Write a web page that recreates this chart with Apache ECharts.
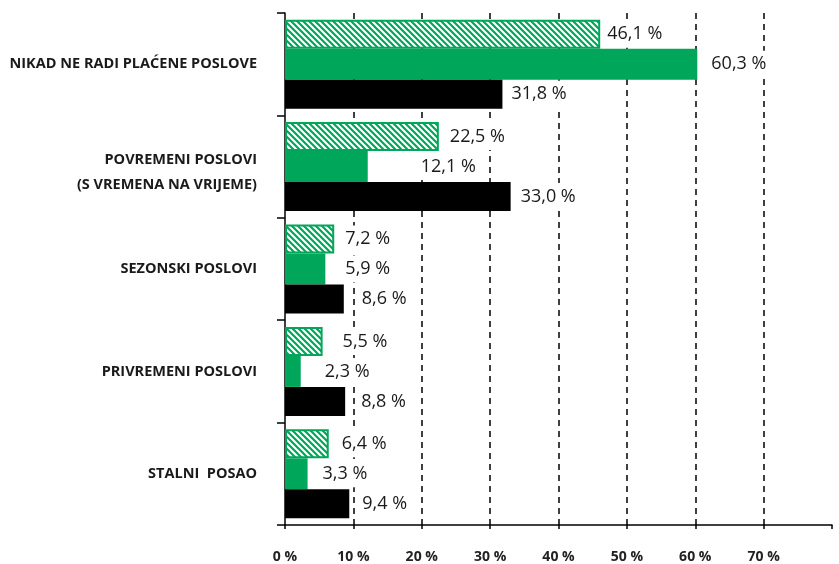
<!DOCTYPE html>
<html>
<head>
<meta charset="utf-8">
<script src="https://cdn.jsdelivr.net/npm/echarts@6/dist/echarts.min.js"></script>
<style>
  html, body { margin: 0; padding: 0; background: #fff; }
  #chart { width: 839px; height: 564px; }
</style>
</head>
<body>
<div id="chart"></div>
<script>
const categories = [
  'NIKAD NE RADI PLAĆENE POSLOVE',
  'POVREMENI POSLOVI\n(S VREMENA NA VRIJEME)',
  'SEZONSKI POSLOVI',
  'PRIVREMENI POSLOVI',
  'STALNI  POSAO'
]
const hatchedValues = [46.1, 22.5, 7.2, 5.5, 6.4]
const greenValues = [60.3, 12.1, 5.9, 2.3, 3.3]
const blackValues = [31.8, 33.0, 8.6, 8.8, 9.4]
const xTicks = [0, 10, 20, 30, 40, 50, 60, 70]

// label gaps (px) so the labels sit where the original has them
const hatchedGap = [4, 8, 8, 17, 10]
const greenGap = [11, 50, 17, 21, 12]
const blackGap = [6, 7, 15, 13, 10]

const GREEN = '#00a65a'
const FONT = '"Open Sans", sans-serif'

const makeHatch = () => {
  const c = document.createElement('canvas')
  c.width = 6
  c.height = 6
  const g = c.getContext('2d')
  g.fillStyle = '#fff'
  g.fillRect(0, 0, 6, 6)
  g.strokeStyle = GREEN
  g.lineWidth = 2.2
  g.beginPath()
  g.moveTo(-2, -2); g.lineTo(8, 8)
  g.moveTo(-2, 4); g.lineTo(2, 8)
  g.moveTo(4, -2); g.lineTo(8, 2)
  g.stroke()
  return c
}

const fmt = p => p.value.toFixed(1).replace('.', ',') + ' %'

const labelStyle = {
  show: true,
  position: 'right',
  formatter: fmt,
  fontFamily: FONT,
  fontSize: 18,
  color: '#1a1a1a',
  backgroundColor: '#fff',
  padding: [3, 3],
  lineHeight: 21
}

const buildData = (values, gaps) => values.map((v, i) => ({
  value: v,
  label: { distance: gaps[i] }
}))

// the two-line label sits a little lower in the original
const catLabel = v => {
  const lines = v.split('\n')
  if (lines.length < 2) return v
  return '{a|' + lines[0] + '}\n{b|' + lines[1] + '}'
}

const catRich = {
  fontFamily: FONT,
  fontWeight: 'bold',
  fontSize: 14,
  color: '#1a1a1a',
  align: 'right'
}

const chart = echarts.init(document.getElementById('chart'))

chart.setOption({
  animation: false,
  grid: { left: 285, right: 7, top: 13, bottom: 39 },
  xAxis: {
    type: 'value',
    min: 0,
    max: 80,
    interval: 10,
    axisLine: { show: true, lineStyle: { color: '#000', width: 1.5 } },
    axisTick: { show: true, length: 4, lineStyle: { color: '#000', width: 1.5 } },
    axisLabel: {
      margin: 25,
      fontFamily: FONT,
      fontWeight: 'bold',
      fontSize: 14,
      color: '#222',
      formatter: v => (xTicks.indexOf(v) >= 0 ? v + ' %' : '')
    },
    splitLine: {
      show: true,
      showMinLine: false,
      showMaxLine: false,
      lineStyle: { color: '#000', width: 1.5, type: [6, 5] }
    }
  },
  yAxis: {
    type: 'category',
    inverse: true,
    data: categories,
    axisLine: { show: true, lineStyle: { color: '#000', width: 1.5 } },
    axisTick: { show: true, length: 8, lineStyle: { color: '#000', width: 1.5 } },
    axisLabel: {
      margin: 28,
      fontFamily: FONT,
      fontWeight: 'bold',
      fontSize: 14.5,
      color: '#1a1a1a',
      align: 'right',
      formatter: catLabel,
      rich: {
        a: Object.assign({}, catRich, { fontSize: 14.5, lineHeight: 36 }),
        b: Object.assign({}, catRich, { fontSize: 14.5, lineHeight: 14 })
      }
    }
  },
  series: [
    {
      name: 'hatched',
      type: 'bar',
      barWidth: 29,
      barGap: 0,
      z: 3,
      itemStyle: {
        color: { image: makeHatch(), repeat: 'repeat' },
        borderColor: GREEN,
        borderWidth: 2
      },
      label: labelStyle,
      data: buildData(hatchedValues, hatchedGap)
    },
    {
      name: 'green',
      type: 'bar',
      barWidth: 31,
      barGap: 0,
      z: 3,
      itemStyle: { color: GREEN },
      label: labelStyle,
      data: buildData(greenValues, greenGap)
    },
    {
      name: 'black',
      type: 'bar',
      barWidth: 29,
      barGap: 0,
      z: 3,
      itemStyle: { color: '#000' },
      label: labelStyle,
      data: buildData(blackValues, blackGap)
    }
  ]
})

window.addEventListener('resize', () => chart.resize())
</script>
</body>
</html>
